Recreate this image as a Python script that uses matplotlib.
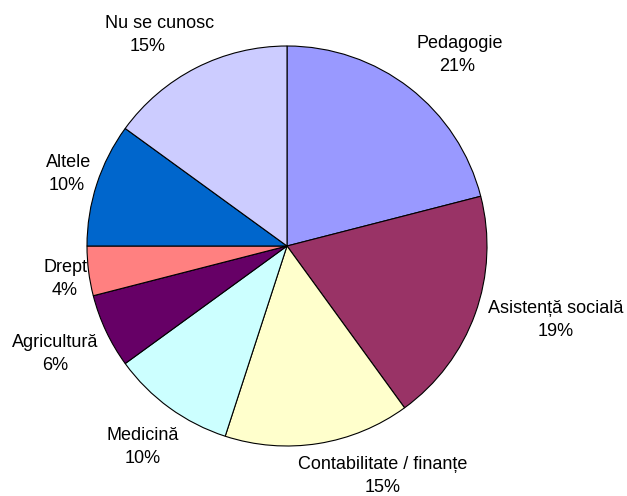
import matplotlib
matplotlib.use("Agg")
import matplotlib.pyplot as plt

# Repartizarea pe domenii
categories = ["Pedagogie", "Asistență socială", "Contabilitate / finanțe", "Medicină",
              "Agricultură", "Drept", "Altele", "Nu se cunosc"]
shares = [21, 19, 15, 10, 6, 4, 10, 15]
colors = ["#9999FF", "#993366", "#FFFFCC", "#CCFFFF", "#660066", "#FF8080", "#0066CC", "#CCCCFF"]

# label centres in pie-radius units, plus a horizontal nudge for the name line
label_pos = [(0.85, 0.955), (1.345, -0.37), (0.48, -1.15), (-0.72, -1.005),
             (-1.16, -0.54), (-1.11, -0.165), (-1.10, 0.36), (-0.695, 1.055)]
name_dx = [0.015, 0, 0, 0, 0, 0, 0.007, 0.06]

plt.rcParams["font.family"] = ["Liberation Sans", "DejaVu Sans"]

fig = plt.figure(figsize=(6.27, 4.96), dpi=100)
ax = fig.add_axes([0, 0, 1, 1])
ax.pie(shares, colors=colors, startangle=90, counterclock=False, radius=1.0,
       wedgeprops=dict(edgecolor="black", linewidth=0.8))

half_gap = 0.0575  # half the distance between the two label lines
for name, val, (x, y), dx in zip(categories, shares, label_pos, name_dx):
    ax.text(x + dx, y + half_gap, name, ha="center", va="center", fontsize=13, color="black")
    ax.text(x, y - half_gap, f"{val}%", ha="center", va="center", fontsize=13, color="black")

ax.set_xlim(-1.435, 1.7)
ax.set_ylim(-1.25, 1.23)
ax.set_aspect("equal")
ax.axis("off")
fig.savefig("out.png", dpi=100)
